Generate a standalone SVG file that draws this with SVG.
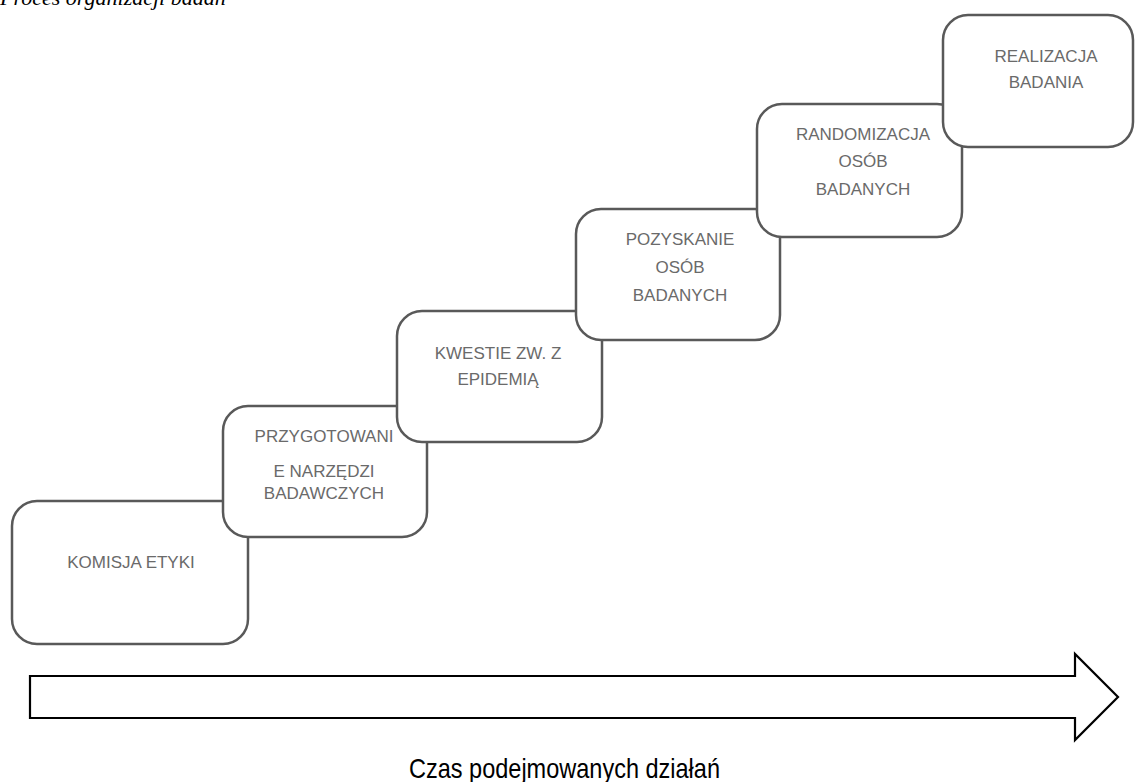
<svg xmlns="http://www.w3.org/2000/svg" width="1135" height="782" viewBox="0 0 1135 782">
  <style>
    .step rect { fill: #ffffff; stroke: #595959; stroke-width: 2.5; }
    .step text { font-family: "Liberation Sans", Arial, sans-serif; font-size: 17px; fill: #6a6a6a; text-anchor: middle; }
    .title { font-family: "Liberation Serif", "Times New Roman", serif; font-style: italic; font-size: 22px; fill: #000; }
    .caption { font-family: "Liberation Sans", Arial, sans-serif; font-size: 28px; fill: #000; }
  </style>
  <rect width="1135" height="782" fill="#ffffff"/>

  <!-- heading, partially outside the top edge -->
  <text class="title" x="0" y="5">Proces organizacji badań</text>

  <!-- process steps, each one overlapping the previous -->
  <g id="step1" class="step">
    <rect x="12" y="501" width="236" height="143" rx="25" ry="25"/>
    <text x="131" y="568">KOMISJA ETYKI</text>
  </g>
  <g id="step2" class="step">
    <rect x="223" y="406" width="204" height="131" rx="25" ry="25"/>
    <text x="324" y="442">PRZYGOTOWANI</text>
    <text x="324" y="477">E NARZĘDZI</text>
    <text x="324" y="499">BADAWCZYCH</text>
  </g>
  <g id="step3" class="step">
    <rect x="397" y="311" width="205" height="131" rx="25" ry="25"/>
    <text x="498" y="359">KWESTIE ZW. Z</text>
    <text x="498" y="385">EPIDEMIĄ</text>
  </g>
  <g id="step4" class="step">
    <rect x="576" y="209" width="204" height="131" rx="25" ry="25"/>
    <text x="680" y="245">POZYSKANIE</text>
    <text x="680" y="273">OSÓB</text>
    <text x="680" y="301">BADANYCH</text>
  </g>
  <g id="step5" class="step">
    <rect x="757" y="104" width="205" height="133" rx="25" ry="25"/>
    <text x="863" y="140">RANDOMIZACJA</text>
    <text x="863" y="167">OSÓB</text>
    <text x="863" y="195">BADANYCH</text>
  </g>
  <g id="step6" class="step">
    <rect x="943" y="15" width="190" height="132" rx="25" ry="25"/>
    <text x="1046" y="62">REALIZACJA</text>
    <text x="1046" y="88">BADANIA</text>
  </g>

  <!-- time axis -->
  <g id="connectors">
    <path d="M30 676 H1075 V654 L1118 697 L1075 740 V718 H30 Z" fill="#ffffff" stroke="#000000" stroke-width="2.2" stroke-linejoin="miter"/>
  </g>
  <text class="caption" x="409" y="778" textLength="311" lengthAdjust="spacingAndGlyphs">Czas podejmowanych działań</text>
</svg>
